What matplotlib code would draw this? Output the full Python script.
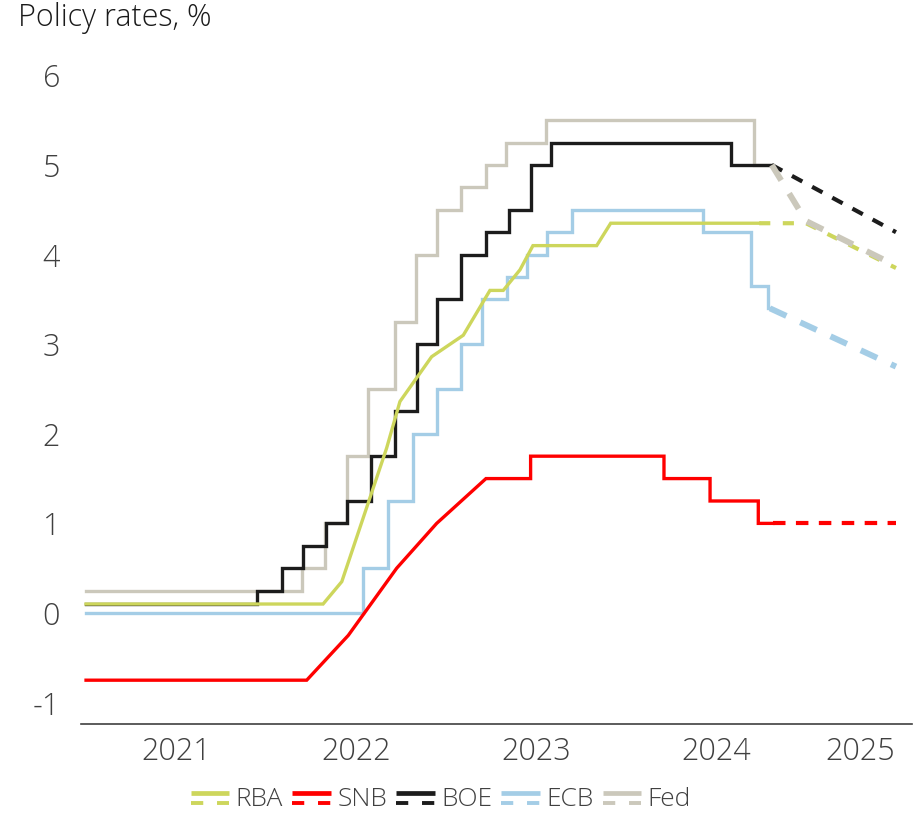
import matplotlib
matplotlib.use("Agg")
import matplotlib.pyplot as plt
from matplotlib.lines import Line2D
from matplotlib.legend_handler import HandlerBase

plt.rcParams['font.family'] = ['Open Sans', 'DejaVu Sans']
plt.rcParams['font.weight'] = 'light'
plt.rcParams['lines.scale_dashes'] = False

TXT = '#404040'

# series: time as decimal years, value in %
fed_t = [2021.0, 2022.198, 2022.198, 2022.328, 2022.328, 2022.448, 2022.448, 2022.565, 2022.565,
         2022.717, 2022.717, 2022.832, 2022.832, 2022.948, 2022.948, 2023.083, 2023.083,
         2023.221, 2023.221, 2023.333, 2023.333, 2023.556, 2023.556, 2024.71, 2024.71, 2024.81]
fed_v = [0.25, 0.25, 0.5, 0.5, 1.0, 1.0, 1.75, 1.75, 2.5, 2.5, 3.25, 3.25, 4.0, 4.0, 4.5, 4.5, 4.75,
         4.75, 5.0, 5.0, 5.25, 5.25, 5.5, 5.5, 5.0, 5.0]
fed_fc_t = [2024.81, 2025.0, 2025.5]
fed_fc_v = [5.0, 4.375, 3.875]

boe_t = [2021.0, 2021.948, 2021.948, 2022.087, 2022.087, 2022.207, 2022.207, 2022.333, 2022.333,
         2022.452, 2022.452, 2022.583, 2022.583, 2022.717, 2022.717, 2022.837, 2022.837,
         2022.952, 2022.952, 2023.083, 2023.083, 2023.222, 2023.222, 2023.352, 2023.352,
         2023.471, 2023.471, 2023.582, 2023.582, 2024.582, 2024.582, 2024.81]
boe_v = [0.1, 0.1, 0.25, 0.25, 0.5, 0.5, 0.75, 0.75, 1.0, 1.0, 1.25, 1.25, 1.75, 1.75, 2.25, 2.25,
         3.0, 3.0, 3.5, 3.5, 4.0, 4.0, 4.25, 4.25, 4.5, 4.5, 5.0, 5.0, 5.25, 5.25, 5.0, 5.0]
boe_fc_t = [2024.81, 2025.5]
boe_fc_v = [5.0, 4.25]

ecb_t = [2021.0, 2022.54, 2022.54, 2022.678, 2022.678, 2022.818, 2022.818, 2022.952, 2022.952,
         2023.083, 2023.083, 2023.2, 2023.2, 2023.339, 2023.339, 2023.45, 2023.45, 2023.559,
         2023.559, 2023.698, 2023.698, 2024.426, 2024.426, 2024.693, 2024.693, 2024.789,
         2024.789, 2024.8]
ecb_v = [0.0, 0.0, 0.5, 0.5, 1.25, 1.25, 2.0, 2.0, 2.5, 2.5, 3.0, 3.0, 3.5, 3.5, 3.75, 3.75, 4.0,
         4.0, 4.25, 4.25, 4.5, 4.5, 4.25, 4.25, 3.65, 3.65, 3.4, 3.4]
ecb_fc_t = [2024.8, 2025.5]
ecb_fc_v = [3.4, 2.75]

rba_t = [2021.0, 2022.317, 2022.421, 2022.67, 2022.744, 2022.92, 2023.096, 2023.244, 2023.318,
         2023.411, 2023.483, 2023.837, 2023.915, 2024.74]
rba_v = [0.1, 0.1, 0.35, 1.84, 2.36, 2.86, 3.1, 3.6, 3.6, 3.83, 4.1, 4.1, 4.35, 4.35]
rba_fc_t = [2024.74, 2025.0, 2025.5]
rba_fc_v = [4.35, 4.35, 3.85]

snb_t = [2021.0, 2022.226, 2022.457, 2022.726, 2022.948, 2023.222, 2023.47, 2023.47, 2024.211,
         2024.211, 2024.467, 2024.467, 2024.735, 2024.735, 2024.817]
snb_v = [-0.75, -0.75, -0.25, 0.5, 1.0, 1.5, 1.5, 1.75, 1.75, 1.5, 1.5, 1.25, 1.25, 1.0, 1.0]
snb_fc_t = [2024.817, 2025.5]
snb_fc_v = [1.0, 1.0]

year_pos = [2021.5, 2022.5, 2023.5, 2024.5, 2025.3]
year_lab = ['2021', '2022', '2023', '2024', '2025']
y_ticks = [-1, 0, 1, 2, 3, 4, 5, 6]

c_rba, c_snb, c_boe, c_ecb, c_fed = '#cdd65c', '#ff0000', '#1c1c1c', '#a4cde6', '#cbc8bb'

fig = plt.figure(figsize=(9.22, 8.18), dpi=100)
ax = fig.add_axes([81 / 922, 94 / 818, 831 / 922, 675.5 / 818])

lw = 2.4
ax.plot(fed_t, fed_v, color=c_fed, lw=lw, zorder=1, solid_joinstyle='miter')
ax.plot(ecb_t, ecb_v, color=c_ecb, lw=lw, zorder=2, solid_joinstyle='miter')
ax.plot(boe_t, boe_v, color=c_boe, lw=lw, zorder=3, solid_joinstyle='miter')
ax.plot(rba_t, rba_v, color=c_rba, lw=lw, zorder=4, solid_joinstyle='miter')
ax.plot(snb_t, snb_v, color=c_snb, lw=lw, zorder=5, solid_joinstyle='miter')

ax.plot(ecb_fc_t, ecb_fc_v, color=c_ecb, lw=4.3, dashes=(13, 11), zorder=2)
ax.plot(boe_fc_t, boe_fc_v, color=c_boe, lw=3.0, dashes=(8.5, 8), zorder=3)
ax.plot(rba_fc_t, rba_fc_v, color=c_rba, lw=3.0, dashes=(8, 9), zorder=4)
ax.plot(snb_fc_t, snb_fc_v, color=c_snb, lw=3.0, dashes=(9, 7.5), zorder=5)
ax.plot(fed_fc_t, fed_fc_v, color=c_fed, lw=4.3, dashes=(13, 11), zorder=6)

ax.set_xlim(2020.972, 2025.589)
ax.set_ylim(-1.239, 6.3)
ax.set_yticks(y_ticks)
ax.set_yticklabels([str(v) for v in y_ticks])
ax.set_xticks(year_pos)
ax.set_xticklabels(year_lab)
ax.tick_params(length=0, labelsize=22, colors=TXT)
ax.tick_params(axis='y', pad=15)
ax.tick_params(axis='x', pad=9)
for s in ['left', 'right', 'top']:
    ax.spines[s].set_visible(False)
ax.spines['bottom'].set_color(TXT)
ax.spines['bottom'].set_linewidth(1.2)

fig.text(18 / 922, 1 - 2 / 818, 'Policy rates, %', ha='left', va='top', fontsize=22, color='#1a1a1a')


class SolidOverDash(HandlerBase):
    def create_artists(self, legend, orig, xd, yd, w, h, fs, trans):
        c = orig.get_color()
        top = Line2D([-xd, -xd + w], [h * 0.72 - yd] * 2, color=c, lw=3.4,
                     solid_capstyle='butt', transform=trans)
        bot = Line2D([-xd, -xd + w], [h * 0.2 - yd] * 2, color=c, lw=2.8,
                     dashes=(w * 0.32, w * 0.36), dash_capstyle='butt', transform=trans)
        return [top, bot]


names = ['RBA', 'SNB', 'BOE', 'ECB', 'Fed']
cols = [c_rba, c_snb, c_boe, c_ecb, c_fed]
handles = [Line2D([], [], color=c) for c in cols]
fig.legend(handles, names, loc='center', bbox_to_anchor=(441 / 922, 1 - 800 / 818), ncol=5,
           frameon=False, fontsize=19, handlelength=1.45, handletextpad=0.25, columnspacing=0.35,
           borderpad=0.2, labelcolor=TXT, handler_map={Line2D: SolidOverDash()})

fig.savefig('out.png', dpi=100)
